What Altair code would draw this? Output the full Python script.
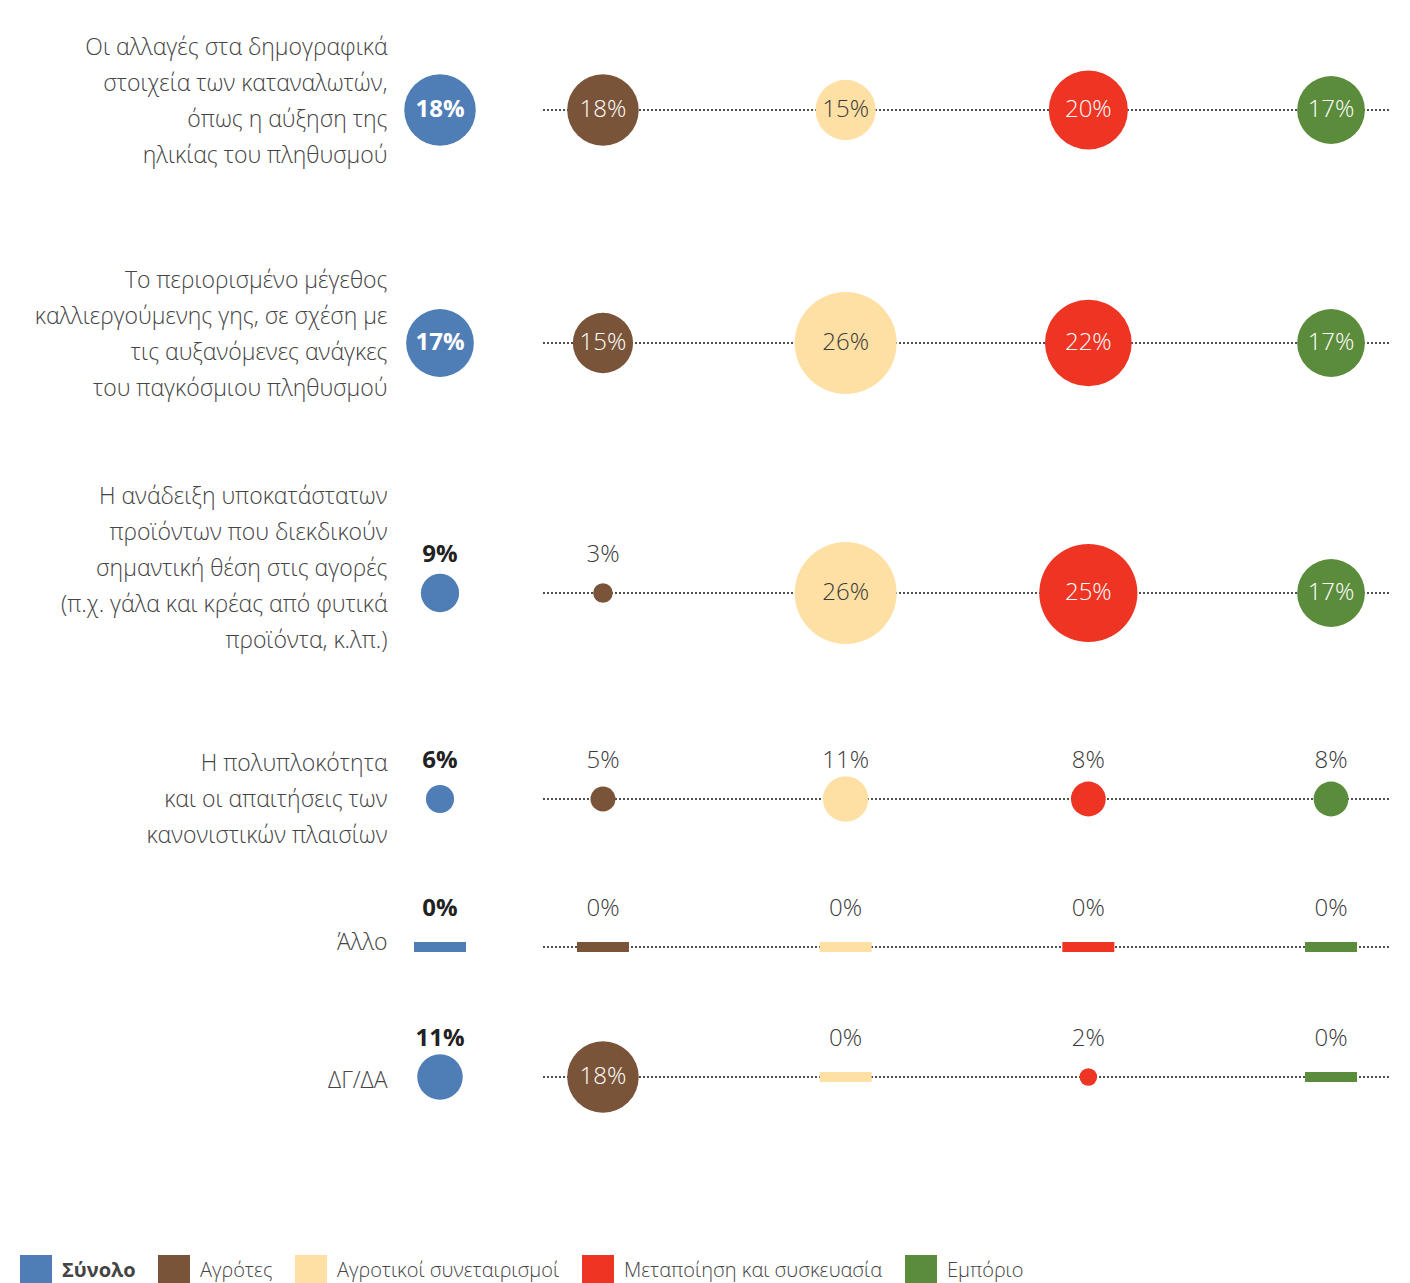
import altair as alt
import pandas as pd

# ---------------- data ----------------
row_labels = [
    "Οι αλλαγές στα δημογραφικά|στοιχεία των καταναλωτών,|όπως η αύξηση της|ηλικίας του πληθυσμού",
    "Το περιορισμένο μέγεθος|καλλιεργούμενης γης, σε σχέση με|τις αυξανόμενες ανάγκες|του παγκόσμιου πληθυσμού",
    "Η ανάδειξη υποκατάστατων|προϊόντων που διεκδικούν|σημαντική θέση στις αγορές|(π.χ. γάλα και κρέας από φυτικά|προϊόντα, κ.λπ.)",
    "Η πολυπλοκότητα|και οι απαιτήσεις των|κανονιστικών πλαισίων",
    "Άλλο",
    "ΔΓ/ΔΑ",
]
groups = ["Σύνολο", "Αγρότες", "Αγροτικοί συνεταιρισμοί", "Μεταποίηση και συσκευασία", "Εμπόριο"]
synolo = [18, 17, 9, 6, 0, 11]
agrotes = [18, 15, 3, 5, 0, 18]
synetairismoi = [15, 26, 26, 11, 0, 0]
metapoiisi = [20, 22, 25, 8, 0, 2]
emporio = [17, 17, 17, 8, 0, 0]
series = [synolo, agrotes, synetairismoi, metapoiisi, emporio]

# ---------------- styles / layout ----------------
colors = ["#4f7db6", "#7a5439", "#ffe0a4", "#ee3524", "#5b8c3b"]
row_heights = [194, 272, 228, 184, 112, 148]
label_shift = [-9, -9, -25, 0, -5, 3]
LINE_H = 36
FONT = "Open Sans"
TXT = "#3a3a3a"
BAR = "M-1,-0.19H1V0.19H-1Z"

records = []
for g, vals in zip(groups, series):
    for ri, v in enumerate(vals):
        records.append({"row": row_labels[ri], "ri": ri, "group": g,
                        "value": v, "label": f"{v}%"})
df = pd.DataFrame(records)

size_scale = alt.Scale(type="pow", exponent=2, domain=[0, 26], range=[250, 10404])
color_scale = alt.Scale(domain=groups, range=colors)
legend = alt.Legend(
    orient="none", legendX=-370, legendY=1242, direction="horizontal", title=None,
    symbolType="square", symbolSize=1024, symbolStrokeWidth=0,
    labelFontSize=20, labelFont=FONT, labelColor="#444", labelLimit=0,
    labelOffset=10, columnPadding=22, padding=0,
    labelFontWeight=alt.ExprRef("datum.label == 'Σύνολο' ? 'bold' : 300"),
)


def layers(base, bold):
    circ = base.transform_filter("datum.value > 0").mark_circle(opacity=1).encode(
        size=alt.Size("value:Q", scale=size_scale, legend=None),
        color=alt.Color("group:N", scale=color_scale, legend=legend),
    )
    bar = base.transform_filter("datum.value == 0").mark_point(
        shape=BAR, filled=True, size=2704, opacity=1
    ).encode(color=alt.Color("group:N", scale=color_scale, legend=legend))
    inside = base.transform_filter("datum.value >= 15").mark_text(
        font=FONT, fontSize=24, fontWeight="bold" if bold else 300, baseline="middle"
    ).encode(
        text="label:N",
        color=alt.condition("datum.group == 'Αγροτικοί συνεταιρισμοί'",
                            alt.value(TXT), alt.value("white")),
    )
    above = base.transform_filter("datum.value < 15").mark_text(
        font=FONT, fontSize=24, fontWeight="bold" if bold else 300,
        baseline="middle", dy=-38, color="#222" if bold else TXT
    ).encode(text="label:N")
    return [circ, bar, inside, above]


charts = []
for ri, lab in enumerate(row_labels):
    d = df[df["ri"] == ri]
    n_lines = len(lab.split("|"))
    # left: label + Σύνολο
    dl = d[d["group"] == groups[0]]
    base_l = alt.Chart(dl).encode(
        x=alt.X("group:N", axis=None, scale=alt.Scale(type="point", padding=0.5)),
        y=alt.Y("row:N", axis=alt.Axis(
            title=None, domain=False, ticks=False, grid=False,
            labelExpr="split(datum.label, '|')",
            labelFontSize=23, labelFont=FONT, labelColor="#444",
            labelFontWeight=300, labelLineHeight=LINE_H, labelLimit=0,
            labelPadding=3,
            labelOffset=label_shift[ri] - (n_lines - 1) * LINE_H / 2,
        )),
    )
    left = alt.layer(*layers(base_l, True)).properties(width=100, height=row_heights[ri])

    # right: 4 groups with dotted line
    dr = d[d["group"] != groups[0]]
    base_r = alt.Chart(dr).encode(
        x=alt.X("group:N", axis=None,
                scale=alt.Scale(type="point", domain=groups[1:], padding=0.21)),
        y=alt.Y("row:N", axis=None),
    )
    rule = alt.Chart(dr).mark_rule(strokeDash=[2, 2], color="#444", strokeWidth=1.1).encode(
        y=alt.Y("row:N", axis=None), x=alt.value(-9), x2=alt.value(838)
    )
    right = alt.layer(rule, *layers(base_r, False)).properties(width=830, height=row_heights[ri])
    charts += [left, right]

chart = alt.concat(*charts, columns=2, spacing={"row": 0, "column": 62}, bounds="flush").resolve_scale(
    x="independent", y="independent", color="shared", size="shared"
).properties(
    padding={"left": 12, "top": 5, "right": 5, "bottom": 5}
).configure_view(stroke=None)

chart.save("out.html", embed_options={"renderer": "svg", "actions": False})
